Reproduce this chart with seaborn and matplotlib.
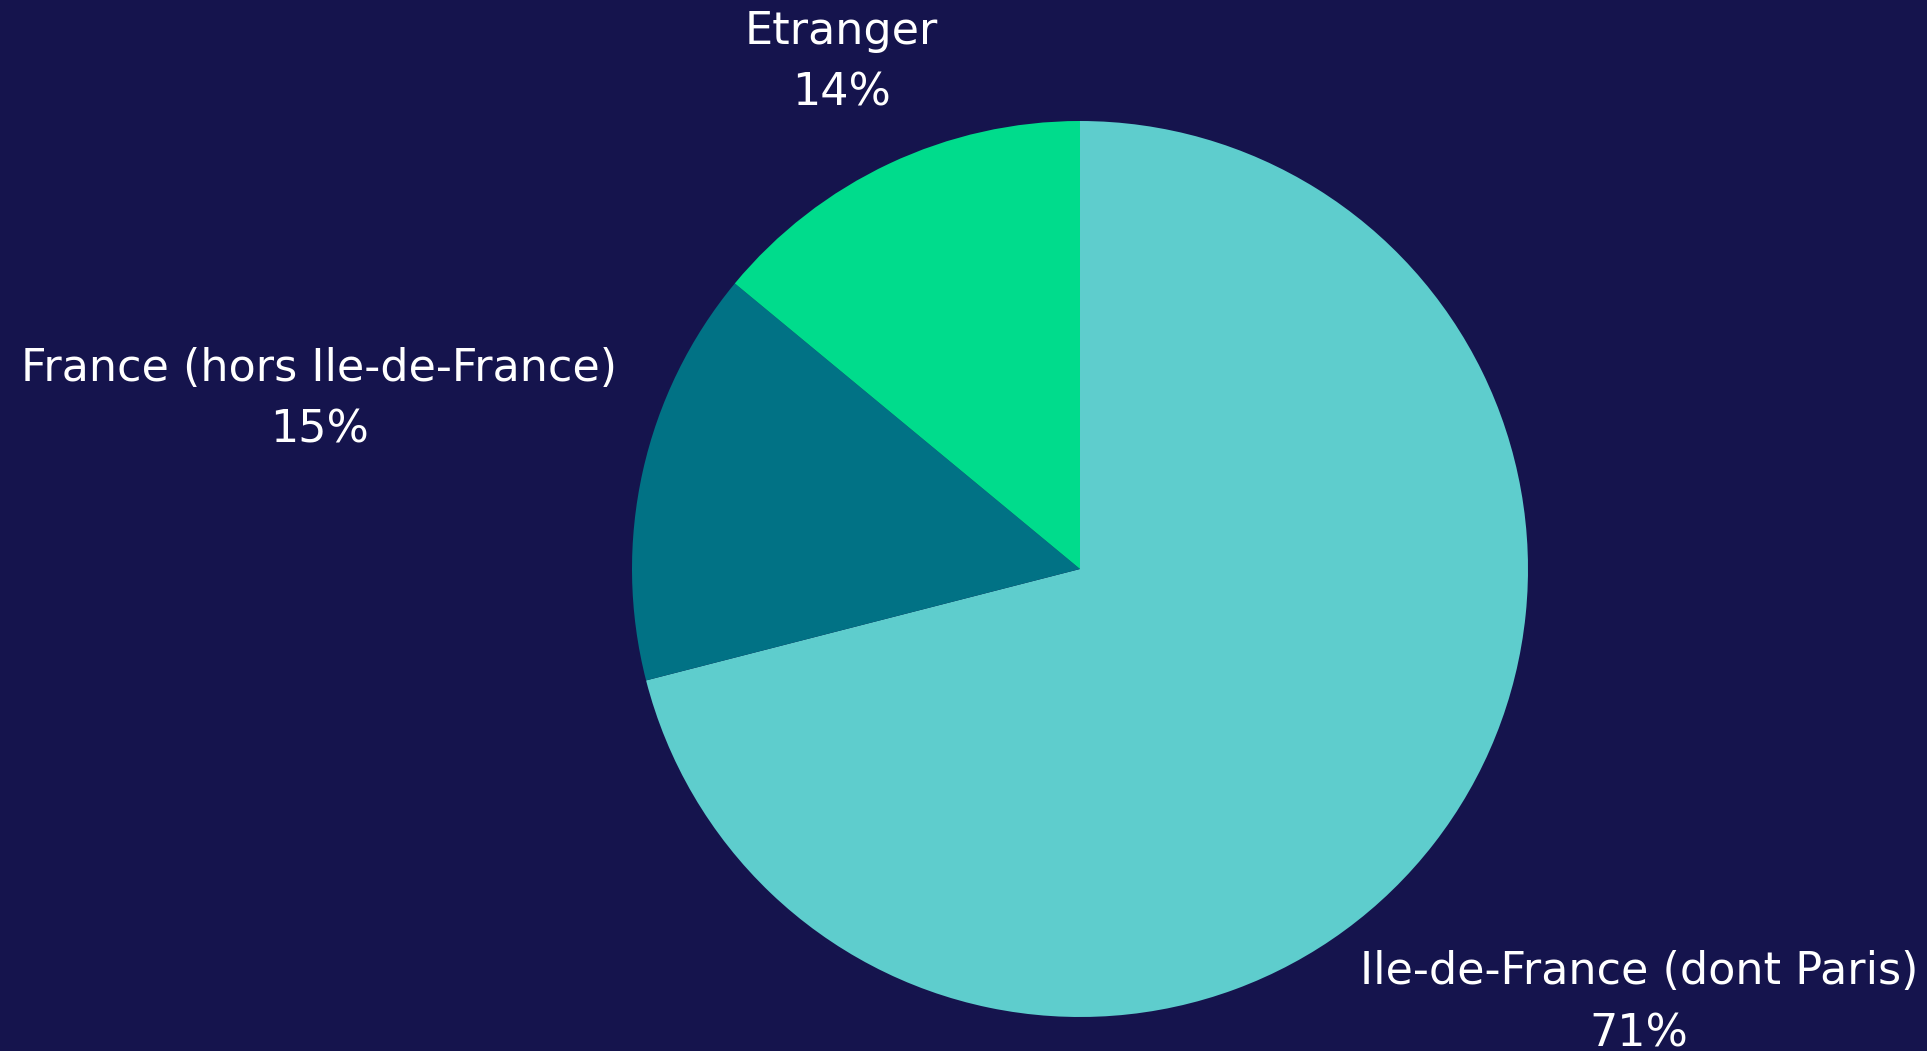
import numpy as np
import seaborn as sns
import matplotlib.pyplot as plt

# data
labels = ['Ile-de-France (dont Paris)', 'France (hors Ile-de-France)', 'Etranger']
shares = [71, 15, 14]
colors = ['#5ecdcd', '#017285', '#00dc8c']
bg = '#15144d'

sns.set_theme(style='white')
plt.rcParams['font.family'] = ['DejaVu Sans']

fig = plt.figure(figsize=(19.27, 10.51), dpi=100, facecolor=bg)
ax = fig.add_axes([632 / 1927, 34 / 1051, 896 / 1927, 896 / 1051])
ax.set_facecolor(bg)

wedges, _ = ax.pie(shares, colors=sns.color_palette(colors), startangle=90,
                   counterclock=False, radius=1,
                   wedgeprops={'linewidth': 0})
ax.set_xlim(-1, 1)
ax.set_ylim(-1, 1)
ax.set_aspect('equal')
ax.axis('off')

# label distance from the centre, per slice
dist = [1.58, 1.74, 1.25]
for w, lab, v, d in zip(wedges, labels, shares, dist):
    a = np.deg2rad((w.theta1 + w.theta2) / 2)
    ax.text(d * np.cos(a), d * np.sin(a), f'{lab}\n{v}%', ha='center', va='center',
            color='white', fontsize=32, linespacing=1.55, clip_on=False)

fig.savefig('out.png', dpi=100, facecolor=bg)
